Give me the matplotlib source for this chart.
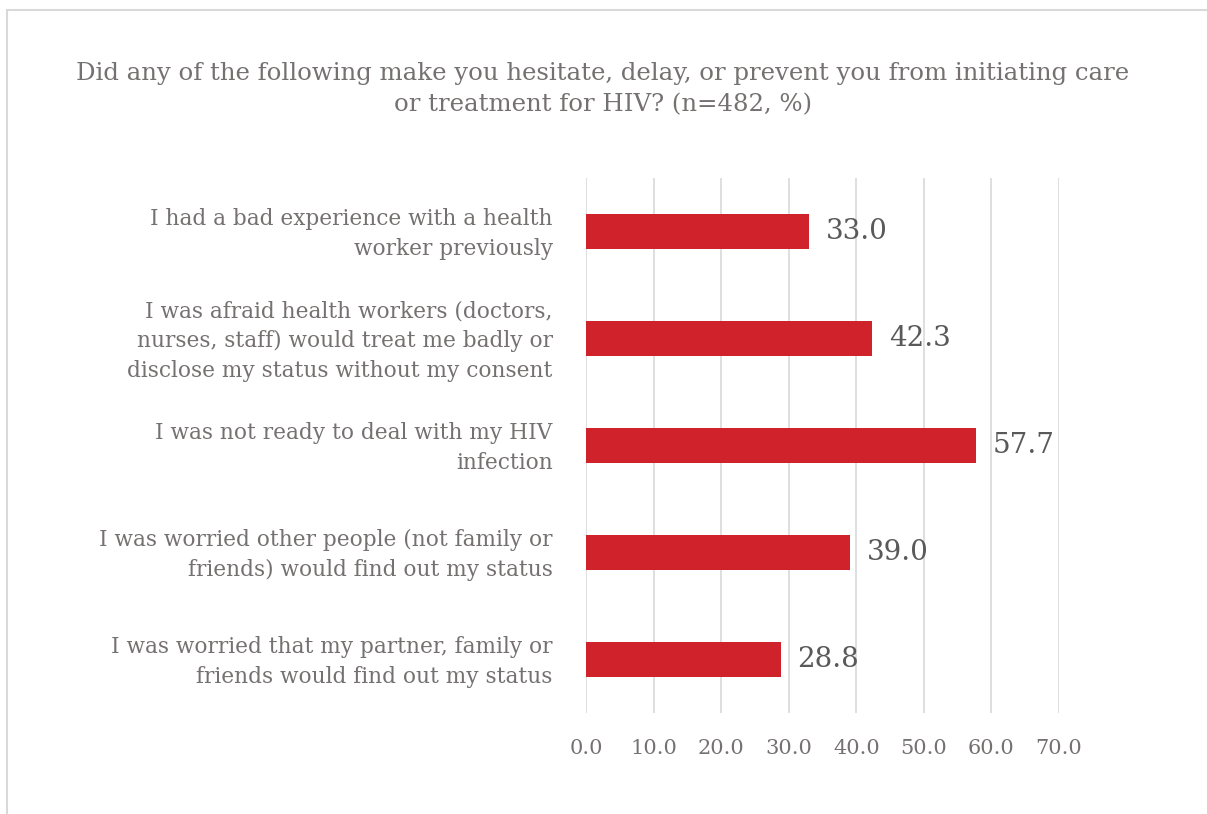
import matplotlib.pyplot as plt
from matplotlib.patches import Rectangle
from matplotlib.transforms import ScaledTranslation

categories = [
    "I had a bad experience with a health\nworker previously",
    "I was afraid health workers (doctors,\nnurses, staff) would treat me badly or\ndisclose my status without my consent",
    "I was not ready to deal with my HIV\ninfection",
    "I was worried other people (not family or\nfriends) would find out my status",
    "I was worried that my partner, family or\nfriends would find out my status",
]
values = [33.0, 42.3, 57.7, 39.0, 28.8]
ticks = [0, 10, 20, 30, 40, 50, 60, 70]

plt.rcParams['font.family'] = ['DejaVu Serif']
text_col = '#767171'

fig = plt.figure(figsize=(12.07, 8.14), dpi=100)
W, H = 1207, 814

# thin frame around the chart area
fig.patches.append(Rectangle((7 / W, -0.1), 1.2, (H - 10) / H + 0.1,
                             transform=fig.transFigure, fill=False,
                             edgecolor='#d9d9d9', linewidth=1.5))

ax = fig.add_axes([586 / W, 1 - 713 / H, (1059 - 586) / W, (713 - 178) / H])

pos = list(range(len(categories)))
ax.barh(pos, values, height=0.32, color='#d0222a')
ax.set_ylim(len(categories) - 0.5, -0.5)
ax.set_xlim(0, 70)
ax.set_xticks(ticks)
ax.set_xticklabels([f"{t:.1f}" for t in ticks], fontsize=15, color=text_col)
ax.set_yticks(pos)
ax.set_yticklabels(categories, fontsize=15.6, color=text_col, linespacing=1.45)
ax.tick_params(length=0)
ax.tick_params(axis='x', pad=19)
ax.tick_params(axis='y', pad=24)
ax.grid(axis='x', color='#d9d9d9', linewidth=1.2)
ax.set_axisbelow(True)
for s in ax.spines.values():
    s.set_visible(False)

# nudge the category labels up a little so they sit level with the bars
shift = ScaledTranslation(0, 4 / 100, fig.dpi_scale_trans)
for lbl in ax.get_yticklabels():
    lbl.set_transform(lbl.get_transform() + shift)

for y, v in zip(pos, values):
    ax.text(v + 2.5, y, f"{v:.1f}", va='center', ha='left', fontsize=20, color='#595959')

fig.text(603 / W, 1 - 89 / H,
         "Did any of the following make you hesitate, delay, or prevent you from initiating care\n"
         "or treatment for HIV? (n=482, %)",
         ha='center', va='center', fontsize=17.6, color=text_col, linespacing=1.45)

fig.savefig('out.png', dpi=100)
